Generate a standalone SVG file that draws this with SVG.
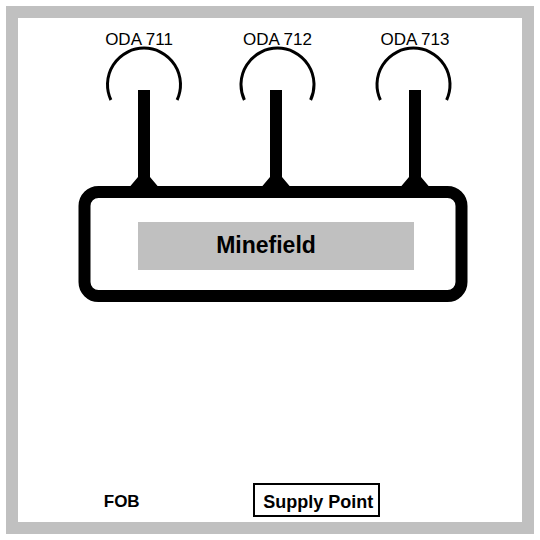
<svg xmlns="http://www.w3.org/2000/svg" width="540" height="540" viewBox="0 0 540 540">
<style>
.bg{fill:#ffffff}
.border{fill:none;stroke:#c0c0c0;stroke-width:12}
.arc{fill:none;stroke:#000;stroke-width:3}
.lbl{font-family:"Liberation Sans",Arial,sans-serif;font-size:17px;fill:#000;text-anchor:middle}
.bold{font-family:"Liberation Sans",Arial,sans-serif;font-weight:bold;fill:#000;text-anchor:middle}
.frame{fill:none;stroke:#000;stroke-width:12}
.stem{fill:#000}
</style>
<rect class="bg" x="0" y="0" width="540" height="540"/>
<rect class="border" x="12" y="12" width="516" height="516"/>
<g id="minefield">
<rect class="frame" x="84.5" y="192" width="377" height="104" rx="14" ry="14"/>
<rect x="138" y="222" width="276" height="48" fill="#c0c0c0"/>
<text class="bold" x="266" y="252.5" font-size="23">Minefield</text>
</g>
<g id="connectors">
<path class="stem" d="M138,90 H150 V177 L158,186.5 H130 L138,177 Z"/>
<path class="stem" d="M270,90 H282 V177 L290,186.5 H262 L270,177 Z"/>
<path class="stem" d="M409,90 H421 V177 L429,186.5 H401 L409,177 Z"/>
</g>
<g id="oda711">
<path class="arc" d="M110.9,100 A36.5 36.5 0 1 1 177.1,100"/>
<text class="lbl" x="139" y="45">ODA 711</text>
</g>
<g id="oda712">
<path class="arc" d="M244.4,100 A36.5 36.5 0 1 1 310.6,100"/>
<text class="lbl" x="277.5" y="45">ODA 712</text>
</g>
<g id="oda713">
<path class="arc" d="M380.4,100 A36.5 36.5 0 1 1 446.6,100"/>
<text class="lbl" x="415" y="45">ODA 713</text>
</g>
<g id="fob">
<text class="bold" x="121.7" y="507" font-size="17">FOB</text>
</g>
<g id="supply-point">
<rect x="254" y="484" width="125" height="32" fill="#fff" stroke="#000" stroke-width="2"/>
<text class="bold" x="318.3" y="507.5" font-size="18">Supply Point</text>
</g>
</svg>
